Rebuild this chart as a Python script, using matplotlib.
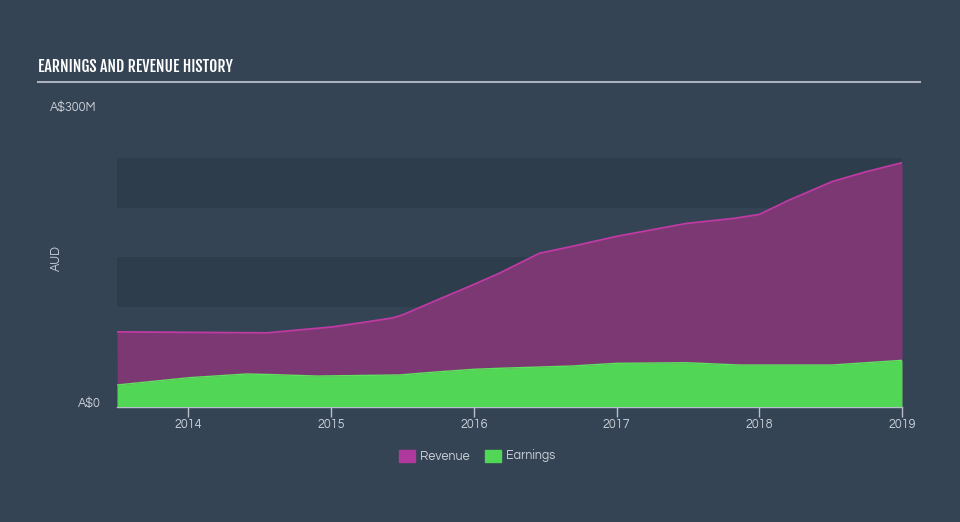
import matplotlib
matplotlib.use("Agg")
import matplotlib.pyplot as plt
from matplotlib.patches import Rectangle
from matplotlib import font_manager

# Data (A$ millions)
rev_x = [2013.5, 2014.0, 2014.55, 2015.01, 2015.25, 2015.43, 2015.5, 2015.71, 2015.99,
         2016.18, 2016.46, 2016.69, 2017.0, 2017.49, 2017.82, 2018.0, 2018.21, 2018.51,
         2018.75, 2019.0]
rev_y = [75, 74.5, 74, 80, 85, 89, 92, 105, 122, 134, 154, 161, 171, 184, 189, 193,
         207.5, 226, 236, 245]
earn_x = [2013.5, 2014.01, 2014.41, 2014.6, 2014.9, 2015.48, 2015.71, 2016.0, 2016.18,
          2016.69, 2017.0, 2017.49, 2017.86, 2018.51, 2019.0]
earn_y = [21.6, 29, 32.7, 32, 30.6, 31.7, 34.4, 37.4, 38.4, 40.7, 43.4, 44, 41.7, 41.7, 46.4]
year_ticks = [2014, 2015, 2016, 2017, 2018, 2019]
dark_bands = [(0, 50), (100, 150), (200, 250)]

BG = "#344454"
BAND = "#2e3d4c"
TXT = "#c9ced6"

names = {f.name for f in font_manager.fontManager.ttflist}
def pick(prefs):
    for p in prefs:
        if p in names:
            return p
    return "DejaVu Sans"
title_family = pick(["Fjalla One", "Oswald", "Bebas Neue", "League Gothic", "Antonio",
                     "Roboto Condensed", "DejaVu Sans"])
body_family = pick(["Questrial", "Mulish", "Muli", "Open Sans"])

fig = plt.figure(figsize=(9.6, 5.22), dpi=100, facecolor=BG)
ax = fig.add_axes([117/960, 1-406.5/522, (902-117)/960, (406.5-108)/522])
ax.set_facecolor(BG)
ax.set_xlim(2013.5, 2019.0)
ax.set_ylim(0, 300)

for lo, hi in dark_bands:
    ax.axhspan(lo, hi, color=BAND, lw=0, zorder=0)

ax.fill_between(rev_x, rev_y, color="#7b3873", lw=0, zorder=2)
ax.plot(rev_x, rev_y, color="#c03aa3", lw=1.3, zorder=3)
ax.fill_between(earn_x, earn_y, color="#52d655", lw=0, zorder=4)
ax.plot(earn_x, earn_y, color="#5fe35f", lw=1.0, zorder=5)

for s in ["top", "right", "left"]:
    ax.spines[s].set_visible(False)
ax.spines["bottom"].set_color("#b8bfca")
ax.spines["bottom"].set_linewidth(1.0)
ax.set_yticks([])
ax.set_xticks(year_ticks)
ax.set_xticklabels([str(y) for y in year_ticks])
ax.tick_params(axis="x", colors="#b8bfca", length=7, width=1, labelcolor=TXT,
               labelsize=9, pad=1, direction="out")
for lab in ax.get_xticklabels():
    lab.set_fontfamily(body_family)

# y labels
fig.text(50/960, 1-108/522, "A$300M", color=TXT, fontsize=9, ha="left", va="center",
         family=body_family)
fig.text(101/960, 1-404/522, "A$0", color=TXT, fontsize=9, ha="right", va="center",
         family=body_family)
fig.text(56/960, 1-258/522, "AUD", color=TXT, fontsize=9, ha="center", va="center",
         rotation=90, family=body_family)

# title
fig.text(38/960, 1-67.5/522, "EARNINGS AND REVENUE HISTORY", color="white", fontsize=11.3,
         fontweight="bold", family=title_family, ha="left", va="center")
fig.add_artist(plt.Line2D([38/960, 920/960], [1-82/522, 1-82/522], color="#aab1bc",
                          lw=1.5, transform=fig.transFigure))

# legend
fig.add_artist(Rectangle((399/960, 1-462/522), 16/960, 12/522, color="#b0399e",
                         transform=fig.transFigure))
fig.text(420/960, 1-456/522, "Revenue", color=TXT, fontsize=9, ha="left", va="center",
         family=body_family)
fig.add_artist(Rectangle((485/960, 1-462/522), 16/960, 12/522, color="#52d655",
                         transform=fig.transFigure))
fig.text(506/960, 1-456/522, "Earnings", color=TXT, fontsize=9, ha="left", va="center",
         family=body_family)

fig.savefig("out.png", dpi=100, facecolor=BG)
